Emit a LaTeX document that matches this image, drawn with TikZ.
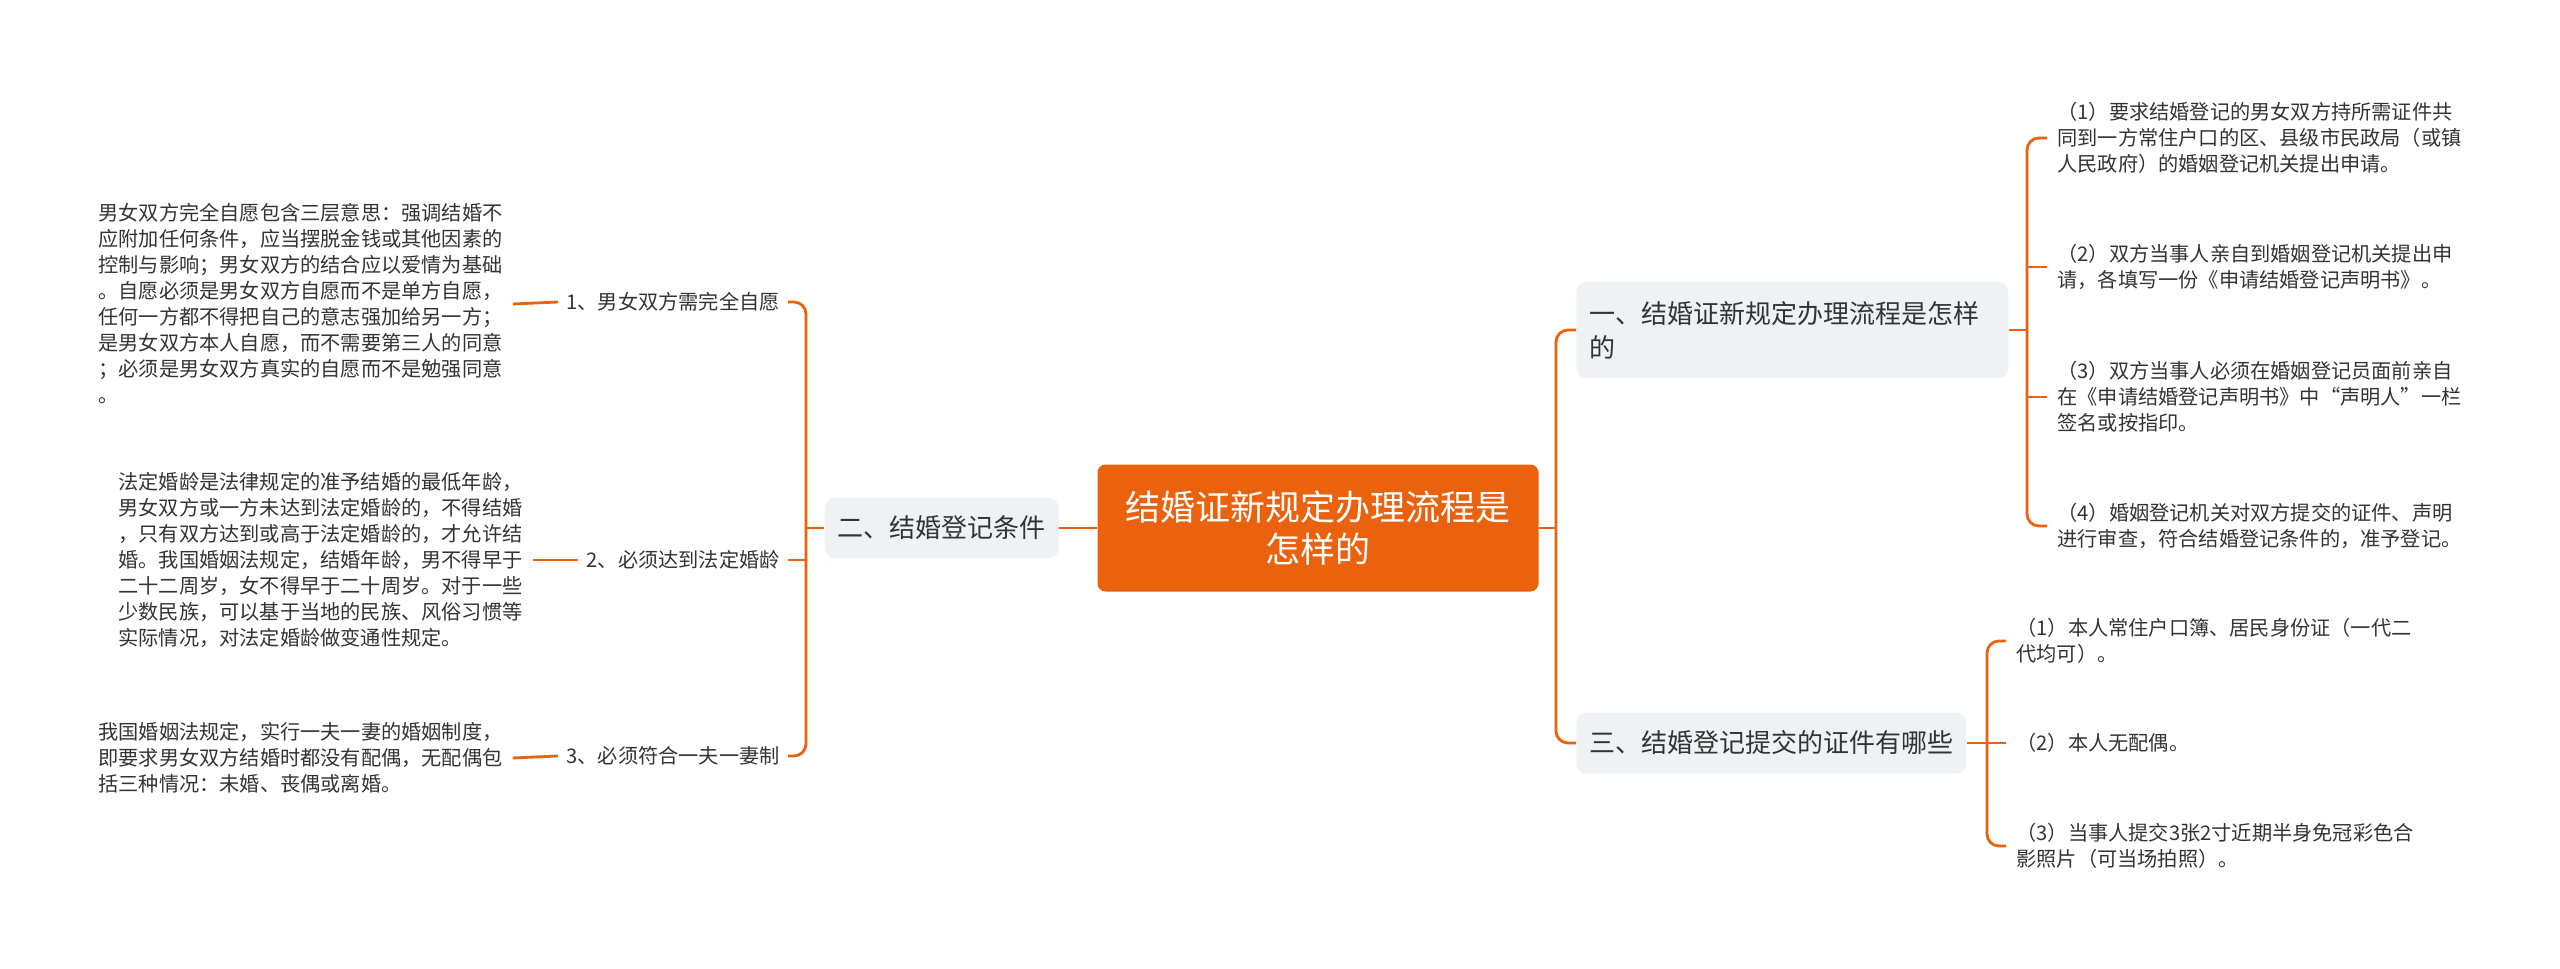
\documentclass[tikz,border=0pt]{standalone}
\usepackage{fontspec}
\setmainfont{Noto Sans CJK SC}
\definecolor{mapOrange}{RGB}{234,97,14}
\definecolor{mapGray}{RGB}{239,242,245}
\definecolor{mapText}{RGB}{51,51,51}

\begin{document}
\begin{tikzpicture}[x=0.5pt,y=-0.5pt,
  link/.style={draw=mapOrange,line width=1.4pt},
  root/.style={fill=mapOrange,text=white,rounded corners=4pt,align=center,
    minimum width=220.5pt,minimum height=63.5pt,font=\fontsize{17.5pt}{21pt}\selectfont},
  topic/.style={fill=mapGray,text=mapText,rounded corners=5pt,inner xsep=6.5pt,
    minimum height=30pt,font=\fontsize{13pt}{17pt}\selectfont},
  note/.style={text=mapText,align=left,inner xsep=5pt,inner ysep=0pt,
    font=\fontsize{10.1pt}{13pt}\selectfont},
  leaf/.style={text=mapText,inner xsep=4pt,font=\fontsize{10.1pt}{13pt}\selectfont}]
\useasboundingbox (0,0) rectangle (2560,969);

\node[root] (root) at (1318,528) {结婚证新规定办理流程是\\怎样的};
\node[topic,anchor=east] (sub2) at (1059,528) {二、结婚登记条件};
\node[topic,anchor=west,text width=203pt,align=left,minimum height=48pt] (sub1) at (1576,330)
  {一、结婚证新规定办理流程是怎样\\的};
\node[topic,anchor=west,minimum height=30.5pt] (sub3) at (1576,743) {三、结婚登记提交的证件有哪些};

\coordinate (jr) at (1556,528);
\coordinate (jl) at (806,528);
\coordinate (ja) at (2027,330);
\coordinate (jb) at (1987,743);

\node[leaf,anchor=east] (lab1) at (788,302) {1、男女双方需完全自愿};
\node[leaf,anchor=east] (lab2) at (788,560) {2、必须达到法定婚龄};
\node[leaf,anchor=east] (lab3) at (788,756) {3、必须符合一夫一妻制};

\node[note,anchor=west] (b1) at (88,304) {男女双方完全自愿包含三层意思：强调结婚不\\
应附加任何条件，应当摆脱金钱或其他因素的\\
控制与影响；男女双方的结合应以爱情为基础\\
。自愿必须是男女双方自愿而不是单方自愿，\\
任何一方都不得把自己的意志强加给另一方；\\
是男女双方本人自愿，而不需要第三人的同意\\
；必须是男女双方真实的自愿而不是勉强同意\\
。};
\node[note,anchor=west] (b2) at (108,560) {法定婚龄是法律规定的准予结婚的最低年龄，\\
男女双方或一方未达到法定婚龄的，不得结婚\\
，只有双方达到或高于法定婚龄的，才允许结\\
婚。我国婚姻法规定，结婚年龄，男不得早于\\
二十二周岁，女不得早于二十周岁。对于一些\\
少数民族，可以基于当地的民族、风俗习惯等\\
实际情况，对法定婚龄做变通性规定。};
\node[note,anchor=west] (b3) at (88,758) {我国婚姻法规定，实行一夫一妻的婚姻制度，\\
即要求男女双方结婚时都没有配偶，无配偶包\\
括三种情况：未婚、丧偶或离婚。};

\node[note,anchor=west] (a1) at (2047,138) {（1）要求结婚登记的男女双方持所需证件共\\
同到一方常住户口的区、县级市民政局（或镇\\
人民政府）的婚姻登记机关提出申请。};
\node[note,anchor=west] (a2) at (2047,267) {（2）双方当事人亲自到婚姻登记机关提出申\\
请，各填写一份《申请结婚登记声明书》。};
\node[note,anchor=west] (a3) at (2047,397) {（3）双方当事人必须在婚姻登记员面前亲自\\
在《申请结婚登记声明书》中“声明人”一栏\\
签名或按指印。};
\node[note,anchor=west] (a4) at (2047,526) {（4）婚姻登记机关对双方提交的证件、声明\\
进行审查，符合结婚登记条件的，准予登记。};

\node[note,anchor=west] (c1) at (2006,641) {（1）本人常住户口簿、居民身份证（一代二\\
代均可）。};
\node[note,anchor=west] (c2) at (2006,743) {（2）本人无配偶。};
\node[note,anchor=west] (c3) at (2006,846) {（3）当事人提交3张2寸近期半身免冠彩色合\\
影照片（可当场拍照）。};

\draw[link] (root.east) -- (jr);
\draw[link] (root.west) -- (sub2.east);
\draw[link,rounded corners=6pt] (sub1.west) -| (jr) |- (sub3.west);

\draw[link] (sub2.west) -- (jl);
\draw[link,rounded corners=6pt] (lab1.east) -| (jl) |- (lab3.east);
\draw[link] (lab2.east) -- (lab2.east -| jl);
\draw[link] (lab1.west) -- (b1.east);
\draw[link] (lab2.west) -- (b2.east);
\draw[link] (lab3.west) -- (b3.east);

\draw[link] (sub1.east) -- (ja);
\draw[link,rounded corners=6pt] (a1.west) -| (ja) |- (a4.west);
\draw[link] (a2.west) -- (a2.west -| ja);
\draw[link] (a3.west) -- (a3.west -| ja);

\draw[link] (sub3.east) -- (jb);
\draw[link,rounded corners=6pt] (c1.west) -| (jb) |- (c3.west);
\draw[link] (c2.west) -- (c2.west -| jb);
\end{tikzpicture}
\end{document}
